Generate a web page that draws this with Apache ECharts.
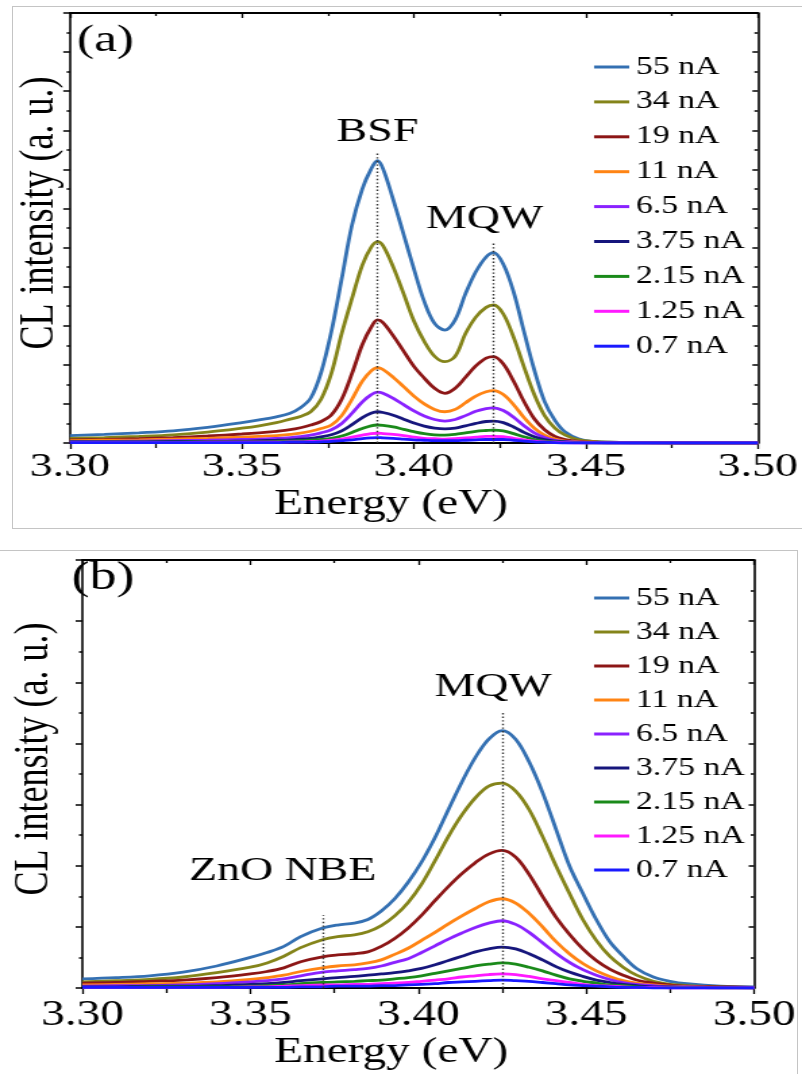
<!DOCTYPE html>
<html>
<head>
<meta charset="utf-8">
<script src="https://cdn.jsdelivr.net/npm/echarts@6/dist/echarts.min.js"></script>
<style>
html,body{margin:0;padding:0;background:#fff;}
body{width:802px;height:1074px;position:relative;overflow:hidden;}
#chart{position:absolute;left:0;top:0;width:594px;height:1074px;transform:scaleX(1.3502);transform-origin:0 0;}
.frame{position:absolute;border:1px solid #c4c4c4;box-sizing:border-box;}
</style>
</head>
<body>
<div class="frame" style="left:12px;top:6px;width:800px;height:523px;"></div>
<div class="frame" style="left:-2px;top:550px;width:800px;height:540px;"></div>
<div id="chart"></div>
<script>
// Beam-current series (legend order) and their line colours
const NAMES = ['55 nA', '34 nA', '19 nA', '11 nA', '6.5 nA', '3.75 nA', '2.15 nA', '1.25 nA', '0.7 nA'];
const COLORS = ['#3470b2', '#84841a', '#8c1616', '#ff8414', '#8a22ff', '#16167c', '#1a8a1a', '#ff1aff', '#1a1aff'];

// Energy axis ticks
const X_MIN = 3.30, X_MAX = 3.50, X_STEP = 0.05;

// ---- Panel (a): energies (eV) and CL intensities (a. u.) ----
const E_A = [3.300, 3.310, 3.320, 3.330, 3.340, 3.350, 3.355, 3.360, 3.364, 3.367, 3.370, 3.373, 3.376, 3.379, 3.382, 3.385, 3.3875, 3.3894, 3.391, 3.394, 3.397, 3.400, 3.403, 3.406, 3.409, 3.412, 3.415, 3.418, 3.421, 3.4232, 3.426, 3.429, 3.432, 3.435, 3.438, 3.441, 3.444, 3.448, 3.452, 3.457, 3.465, 3.480, 3.500];
const A_55 = [0.19, 0.22, 0.26, 0.31, 0.40, 0.52, 0.59, 0.67, 0.76, 0.90, 1.15, 1.80, 2.85, 4.20, 5.58, 6.50, 7.00, 7.22, 7.02, 6.22, 5.34, 4.45, 3.62, 3.06, 2.89, 3.15, 3.82, 4.38, 4.76, 4.87, 4.57, 3.86, 2.85, 1.87, 1.06, 0.58, 0.28, 0.10, 0.04, 0.02, 0.01, 0.00, 0.00];
const A_34 = [0.12, 0.14, 0.17, 0.21, 0.28, 0.38, 0.44, 0.52, 0.61, 0.68, 0.80, 1.12, 1.78, 2.80, 3.70, 4.55, 5.00, 5.15, 5.05, 4.50, 3.82, 3.12, 2.60, 2.22, 2.08, 2.22, 2.80, 3.22, 3.47, 3.53, 3.30, 2.70, 1.95, 1.24, 0.70, 0.38, 0.20, 0.08, 0.04, 0.02, 0.01, 0.00, 0.00];
const A_19 = [0.08, 0.09, 0.11, 0.14, 0.18, 0.23, 0.26, 0.30, 0.34, 0.39, 0.46, 0.55, 0.72, 1.12, 1.78, 2.52, 2.95, 3.15, 3.08, 2.74, 2.35, 1.96, 1.66, 1.40, 1.27, 1.40, 1.68, 1.97, 2.17, 2.21, 2.02, 1.58, 1.06, 0.62, 0.34, 0.17, 0.09, 0.04, 0.02, 0.01, 0.01, 0.00, 0.00];
const A_11 = [0.06, 0.07, 0.08, 0.10, 0.12, 0.15, 0.17, 0.19, 0.22, 0.25, 0.30, 0.37, 0.46, 0.70, 1.12, 1.58, 1.84, 1.93, 1.88, 1.68, 1.44, 1.20, 1.00, 0.86, 0.80, 0.86, 1.03, 1.20, 1.31, 1.34, 1.24, 0.98, 0.65, 0.38, 0.20, 0.10, 0.05, 0.03, 0.02, 0.01, 0.01, 0.00, 0.00];
const A_6_5 = [0.04, 0.04, 0.05, 0.06, 0.07, 0.09, 0.10, 0.12, 0.14, 0.16, 0.20, 0.26, 0.34, 0.50, 0.76, 1.05, 1.23, 1.30, 1.27, 1.14, 0.98, 0.82, 0.69, 0.60, 0.56, 0.60, 0.70, 0.81, 0.88, 0.90, 0.83, 0.66, 0.44, 0.26, 0.14, 0.07, 0.04, 0.02, 0.01, 0.01, 0.00, 0.00, 0.00];
const A_3_75 = [0.03, 0.03, 0.03, 0.04, 0.04, 0.05, 0.06, 0.07, 0.08, 0.10, 0.12, 0.16, 0.21, 0.31, 0.47, 0.65, 0.76, 0.80, 0.78, 0.71, 0.61, 0.51, 0.43, 0.38, 0.36, 0.38, 0.44, 0.50, 0.55, 0.56, 0.52, 0.41, 0.27, 0.16, 0.09, 0.05, 0.03, 0.01, 0.01, 0.00, 0.00, 0.00, 0.00];
const A_2_15 = [0.02, 0.02, 0.02, 0.02, 0.03, 0.03, 0.03, 0.04, 0.05, 0.06, 0.07, 0.09, 0.12, 0.18, 0.27, 0.37, 0.44, 0.46, 0.45, 0.41, 0.35, 0.29, 0.24, 0.21, 0.20, 0.22, 0.26, 0.30, 0.32, 0.33, 0.31, 0.24, 0.16, 0.09, 0.05, 0.03, 0.02, 0.01, 0.00, 0.00, 0.00, 0.00, 0.00];
const A_1_25 = [0.01, 0.01, 0.01, 0.01, 0.02, 0.02, 0.02, 0.02, 0.03, 0.03, 0.04, 0.05, 0.07, 0.10, 0.15, 0.20, 0.24, 0.25, 0.24, 0.22, 0.19, 0.15, 0.12, 0.11, 0.10, 0.11, 0.13, 0.15, 0.17, 0.17, 0.16, 0.12, 0.08, 0.05, 0.03, 0.02, 0.01, 0.00, 0.00, 0.00, 0.00, 0.00, 0.00];
const A_0_7 = [0.01, 0.01, 0.01, 0.01, 0.01, 0.01, 0.01, 0.01, 0.02, 0.02, 0.02, 0.03, 0.04, 0.06, 0.08, 0.11, 0.13, 0.14, 0.13, 0.12, 0.10, 0.08, 0.07, 0.06, 0.06, 0.06, 0.07, 0.08, 0.09, 0.09, 0.09, 0.07, 0.05, 0.03, 0.02, 0.01, 0.00, 0.00, 0.00, 0.00, 0.00, 0.00, 0.00];

// Peak markers in panel (a)
const PEAK_A_NAMES = ['BSF', 'MQW'];
const PEAK_A_E = [3.3894, 3.4232];
const PEAK_A_TOP = [7.44, 5.14];

// ---- Panel (b): energies (eV) and CL intensities (a. u.) ----
const E_B = [3.300, 3.310, 3.320, 3.330, 3.340, 3.350, 3.355, 3.360, 3.365, 3.3715, 3.376, 3.381, 3.385, 3.389, 3.393, 3.397, 3.401, 3.405, 3.409, 3.413, 3.417, 3.421, 3.425, 3.429, 3.433, 3.437, 3.441, 3.445, 3.449, 3.453, 3.457, 3.461, 3.465, 3.470, 3.475, 3.480, 3.490, 3.500];
const B_55 = [0.15, 0.17, 0.20, 0.26, 0.36, 0.50, 0.58, 0.68, 0.84, 0.98, 1.03, 1.06, 1.12, 1.26, 1.46, 1.73, 2.06, 2.46, 2.92, 3.37, 3.77, 4.07, 4.21, 4.07, 3.70, 3.20, 2.60, 2.00, 1.55, 1.12, 0.76, 0.52, 0.32, 0.18, 0.11, 0.07, 0.03, 0.02];
const B_34 = [0.10, 0.12, 0.14, 0.18, 0.25, 0.34, 0.41, 0.52, 0.66, 0.79, 0.84, 0.87, 0.92, 1.02, 1.18, 1.40, 1.70, 2.08, 2.48, 2.83, 3.11, 3.30, 3.35, 3.22, 2.92, 2.48, 2.00, 1.55, 1.12, 0.78, 0.52, 0.34, 0.21, 0.11, 0.06, 0.04, 0.02, 0.01];
const B_19 = [0.08, 0.09, 0.11, 0.13, 0.17, 0.23, 0.27, 0.33, 0.43, 0.51, 0.54, 0.56, 0.59, 0.68, 0.81, 0.98, 1.19, 1.43, 1.66, 1.87, 2.05, 2.19, 2.25, 2.14, 1.86, 1.50, 1.16, 0.88, 0.64, 0.45, 0.31, 0.21, 0.13, 0.08, 0.05, 0.03, 0.02, 0.01];
const B_11 = [0.05, 0.06, 0.07, 0.08, 0.10, 0.14, 0.17, 0.21, 0.27, 0.33, 0.36, 0.38, 0.41, 0.46, 0.55, 0.65, 0.78, 0.91, 1.05, 1.18, 1.30, 1.41, 1.46, 1.39, 1.22, 1.00, 0.76, 0.56, 0.40, 0.28, 0.19, 0.12, 0.08, 0.05, 0.03, 0.02, 0.01, 0.01];
const B_6_5 = [0.03, 0.04, 0.04, 0.05, 0.07, 0.10, 0.12, 0.15, 0.20, 0.26, 0.28, 0.30, 0.32, 0.36, 0.42, 0.48, 0.58, 0.69, 0.80, 0.90, 0.99, 1.06, 1.10, 1.04, 0.91, 0.74, 0.57, 0.42, 0.30, 0.21, 0.14, 0.09, 0.06, 0.04, 0.02, 0.02, 0.01, 0.01];
const B_3_75 = [0.02, 0.02, 0.03, 0.03, 0.04, 0.06, 0.07, 0.09, 0.12, 0.15, 0.17, 0.19, 0.21, 0.23, 0.25, 0.28, 0.32, 0.38, 0.45, 0.52, 0.59, 0.64, 0.67, 0.64, 0.56, 0.46, 0.35, 0.26, 0.19, 0.13, 0.09, 0.06, 0.04, 0.02, 0.02, 0.01, 0.01, 0.00];
const B_2_15 = [0.01, 0.01, 0.02, 0.02, 0.02, 0.03, 0.04, 0.05, 0.07, 0.09, 0.10, 0.11, 0.12, 0.13, 0.15, 0.17, 0.20, 0.24, 0.28, 0.32, 0.36, 0.39, 0.41, 0.39, 0.34, 0.28, 0.21, 0.15, 0.11, 0.08, 0.05, 0.04, 0.02, 0.01, 0.01, 0.01, 0.00, 0.00];
const B_1_25 = [0.01, 0.01, 0.01, 0.01, 0.01, 0.02, 0.02, 0.03, 0.04, 0.05, 0.05, 0.06, 0.06, 0.07, 0.08, 0.09, 0.11, 0.13, 0.15, 0.18, 0.20, 0.22, 0.23, 0.22, 0.19, 0.15, 0.12, 0.09, 0.06, 0.04, 0.03, 0.02, 0.01, 0.01, 0.00, 0.00, 0.00, 0.00];
const B_0_7 = [0.01, 0.01, 0.01, 0.01, 0.01, 0.01, 0.01, 0.01, 0.02, 0.02, 0.03, 0.03, 0.03, 0.04, 0.04, 0.05, 0.06, 0.07, 0.09, 0.10, 0.11, 0.12, 0.13, 0.12, 0.11, 0.09, 0.07, 0.05, 0.04, 0.03, 0.02, 0.01, 0.01, 0.00, 0.00, 0.00, 0.00, 0.00];

// Peak markers in panel (b)
const PEAK_B_NAMES = ['ZnO NBE', 'MQW'];
const PEAK_B_E = [3.3715, 3.425];
const PEAK_B_TOP = [1.19, 4.51];

const SERIES_A = [A_55, A_34, A_19, A_11, A_6_5, A_3_75, A_2_15, A_1_25, A_0_7];
const SERIES_B = [B_55, B_34, B_19, B_11, B_6_5, B_3_75, B_2_15, B_1_25, B_0_7];

const FONT = '"Liberation Serif", "Times New Roman", Times, serif';
const BLACK = '#000';

function bottomAxis(grid, labelSize, labelMargin, nameGap, namePadRight) {
  return {
    gridIndex: grid, type: 'value', position: 'bottom',
    min: X_MIN, max: X_MAX, interval: X_STEP,
    axisLine: { show: true, onZero: false, lineStyle: { color: BLACK, width: 2 } },
    axisTick: { show: true, inside: false, length: 6, lineStyle: { color: BLACK, width: 1.3 } },
    minorTick: { show: true, splitNumber: 2, length: 5, lineStyle: { color: BLACK, width: 1.3 } },
    splitLine: { show: false },
    axisLabel: { show: true, margin: labelMargin, fontSize: labelSize, fontFamily: FONT, color: BLACK,
      formatter: v => v.toFixed(2) },
    name: 'Energy (eV)', nameLocation: 'middle', nameGap: nameGap,
    nameTextStyle: { fontSize: 35, fontFamily: FONT, color: BLACK, padding: [0, namePadRight, 0, 0] }
  };
}
function topAxis(grid) {
  return {
    gridIndex: grid, type: 'value', position: 'top',
    min: X_MIN, max: X_MAX, interval: X_STEP,
    axisLine: { show: true, onZero: false, lineStyle: { color: BLACK, width: 2 } },
    axisTick: { show: true, inside: true, length: 5, lineStyle: { color: BLACK, width: 1.3 } },
    minorTick: { show: true, splitNumber: 2, length: 3, lineStyle: { color: BLACK, width: 1.3 } },
    splitLine: { show: false }, axisLabel: { show: false }
  };
}
function leftAxis(grid, yMax, nameGap, namePadLeft) {
  return {
    gridIndex: grid, type: 'value', position: 'left',
    min: 0, max: yMax, interval: 1,
    axisLine: { show: true, onZero: false, lineStyle: { color: BLACK, width: 1.6 } },
    axisTick: { show: true, inside: false, length: 5, lineStyle: { color: BLACK, width: 1.5 } },
    minorTick: { show: true, splitNumber: 2, length: 2.5, lineStyle: { color: BLACK, width: 1.5 } },
    splitLine: { show: false }, axisLabel: { show: false },
    name: 'CL intensity (a. u.)', nameLocation: 'middle', nameGap: nameGap,
    nameTextStyle: { fontSize: 36, fontFamily: FONT, color: BLACK, padding: [0, 0, 0, namePadLeft] }
  };
}
function rightAxis(grid, yMax) {
  return {
    gridIndex: grid, type: 'value', position: 'right',
    min: 0, max: yMax, interval: 1,
    axisLine: { show: true, onZero: false, lineStyle: { color: BLACK, width: 1.6 } },
    axisTick: { show: true, inside: true, length: 4, lineStyle: { color: BLACK, width: 1.5 } },
    minorTick: { show: true, splitNumber: 2, length: 2.5, lineStyle: { color: BLACK, width: 1.5 } },
    splitLine: { show: false }, axisLabel: { show: false }
  };
}

function peakLines(names, energies, tops, distances, offsets) {
  return {
    silent: true, animation: false, symbol: ['none', 'none'],
    lineStyle: { color: '#333', width: 1.4, type: [1.4, 2.2] },
    data: names.map((n, i) => [
      { coord: [energies[i], 0], name: n,
        label: { show: true, position: 'end', formatter: n, distance: distances[i], offset: offsets[i],
          fontSize: 34, fontFamily: FONT, color: BLACK } },
      { coord: [energies[i], tops[i]] }
    ])
  };
}

function buildSeries(energies, table, axisIdx, marks) {
  return table.map((vals, i) => ({
    type: 'line', name: NAMES[i], xAxisIndex: axisIdx, yAxisIndex: axisIdx,
    data: energies.map((e, j) => [e, vals[j]]),
    smooth: 0.35, symbol: 'none', showSymbol: false, animation: false,
    lineStyle: { width: 2.8, color: COLORS[i] }, itemStyle: { color: COLORS[i] },
    markLine: i === 0 ? marks : undefined
  }));
}

function legend(top, gap) {
  return {
    data: NAMES, orient: 'vertical', left: 435, top: top,
    icon: 'rect', itemWidth: 26, itemHeight: 3, itemGap: gap,
    selectedMode: false,
    textStyle: { fontSize: 25, lineHeight: 25, fontFamily: FONT, color: BLACK }
  };
}

const chart = echarts.init(document.getElementById('chart'), null, { renderer: 'canvas' });
chart.setOption({
  animation: false,
  backgroundColor: 'transparent',
  title: [
    { text: '(a)', left: 57, top: 22, padding: 0,
      textStyle: { fontSize: 38, fontWeight: 'normal', fontFamily: FONT, color: BLACK } },
    { text: '(b)', left: 53, top: 558, padding: 0,
      textStyle: { fontSize: 40, fontWeight: 'normal', fontFamily: FONT, color: BLACK } }
  ],
  legend: [legend(49.5, 9.9), legend(580.5, 9)],
  grid: [
    { left: 51.85, top: 13, width: 511.1, height: 430 },
    { left: 50.4, top: 560, width: 508.1, height: 428 }
  ],
  xAxis: [bottomAxis(0, 34, 7, 44, 34), topAxis(0), bottomAxis(1, 35, 10, 47, 40), topAxis(1)],
  yAxis: [leftAxis(0, 11, 4, 30), rightAxis(0, 11), leftAxis(1, 7, 17, 30), rightAxis(1, 7)],
  series: [
    ...buildSeries(E_A, SERIES_A, 0,
      peakLines(PEAK_A_NAMES, PEAK_A_E, PEAK_A_TOP, [3, 6], [[0, 0], [-6.7, 0]])),
    ...buildSeries(E_B, SERIES_B, 2,
      peakLines(PEAK_B_NAMES, PEAK_B_E, PEAK_B_TOP, [27, 8], [[-29.5, 0], [-6.7, 0]]))
  ].map((s, k) => k < 9 ? s : Object.assign(s, { xAxisIndex: 2, yAxisIndex: 2 }))
});
</script>
</body>
</html>
